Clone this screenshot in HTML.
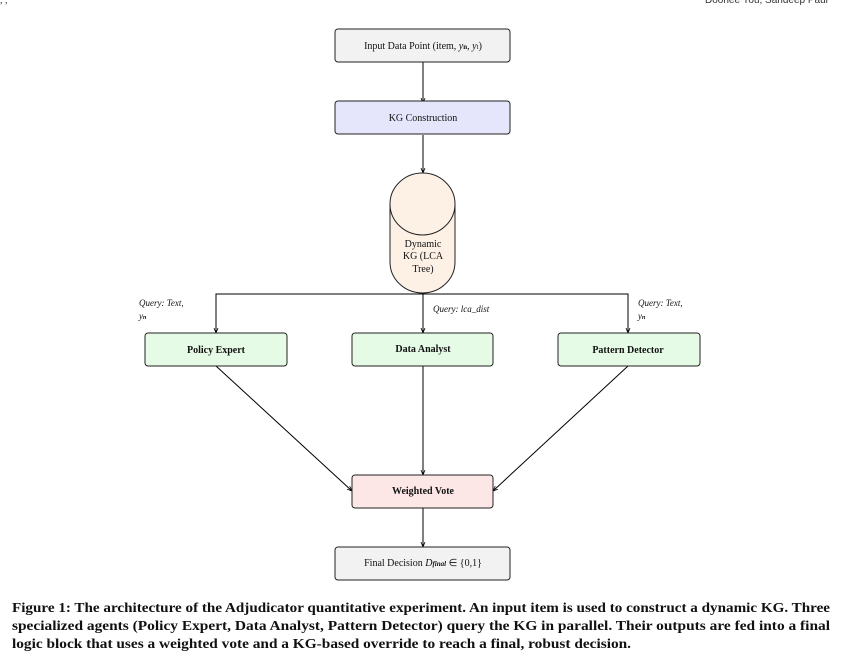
<!DOCTYPE html>
<html><head><meta charset="utf-8"><style>
html,body{margin:0;padding:0;background:#fff;}
svg{display:block;}
</style></head><body>
<svg width="852" height="666" viewBox="0 0 852 666" xmlns="http://www.w3.org/2000/svg" font-family="Liberation Serif, serif">
<defs><marker id="a" markerWidth="6" markerHeight="6" refX="5" refY="3" orient="auto"><path d="M0,1 L5,3 L0,5" fill="none" stroke="#000" stroke-width="0.8"/></marker></defs>
<text x="705" y="3" font-family="Liberation Sans, sans-serif" font-size="10" fill="#333">Doohee You, Sandeep Paul</text>
<text x="0" y="3" font-size="10" fill="#333">, ,</text>
<g stroke="#000" stroke-width="1" fill="none">
<line x1="423" y1="62" x2="423" y2="103" marker-end="url(#a)"/>
<line x1="423" y1="135" x2="423" y2="173" marker-end="url(#a)"/>
<polyline points="216,333 216,294 628,294 628,333"/>
<line x1="216" y1="320" x2="216" y2="333" marker-end="url(#a)"/>
<line x1="628" y1="320" x2="628" y2="333" marker-end="url(#a)"/>
<line x1="423" y1="294" x2="423" y2="333" marker-end="url(#a)"/>
<line x1="216" y1="366" x2="352" y2="491" marker-end="url(#a)"/>
<line x1="628" y1="366" x2="493" y2="491" marker-end="url(#a)"/>
<line x1="423" y1="366" x2="423" y2="475" marker-end="url(#a)"/>
<line x1="423" y1="508" x2="423" y2="547" marker-end="url(#a)"/>
</g>
<g stroke="#222" stroke-width="1">
<rect x="335" y="29" width="175" height="33" rx="3" fill="#f2f2f2"/>
<rect x="335" y="101" width="175" height="33" rx="3" fill="#e5e5fc"/>
<path d="M390,204 A32.5,31 0 0 1 455,204 L455,262 A32.5,31 0 0 1 390,262 Z" fill="#fdf1e6"/>
<path d="M390,204 A32.5,31 0 0 0 455,204" fill="none"/>
<rect x="145" y="333" width="142" height="33" rx="3" fill="#e6fbe6"/>
<rect x="352" y="333" width="141" height="33" rx="3" fill="#e6fbe6"/>
<rect x="558" y="333" width="142" height="33" rx="3" fill="#e6fbe6"/>
<rect x="352" y="475" width="141" height="33" rx="3" fill="#fde6e6"/>
<rect x="335" y="547" width="175" height="33" rx="3" fill="#f2f2f2"/>
</g>
<g font-size="10" fill="#111" text-anchor="middle">
<text x="423" y="49">Input Data Point (item, <tspan font-style="italic">y</tspan><tspan font-size="7" font-weight="bold">n</tspan>, <tspan font-style="italic">y</tspan><tspan font-size="7">t</tspan>)</text>
<text x="423" y="121">KG Construction</text>
<text x="423" y="247">Dynamic</text>
<text x="423" y="259">KG (LCA</text>
<text x="423" y="272">Tree)</text>
<g font-weight="bold"><text x="216" y="353">Policy Expert</text>
<text x="423" y="352">Data Analyst</text>
<text x="628" y="353">Pattern Detector</text>
<text x="423" y="494">Weighted Vote</text></g>
<text x="423" y="566">Final Decision <tspan font-style="italic">D</tspan><tspan font-size="7" font-style="italic" font-weight="bold">final</tspan> ∈ {0,1}</text>
</g>
<g font-size="9" font-style="italic" fill="#111">
<text x="139" y="306">Query:  Text,</text>
<text x="139" y="319">y<tspan font-size="6" font-weight="bold">n</tspan></text>
<text x="433" y="312">Query:  lca_dist</text>
<text x="638" y="306">Query:  Text,</text>
<text x="638" y="319">y<tspan font-size="6" font-weight="bold">n</tspan></text>
</g>
<g font-size="14" font-weight="bold" fill="#111">
<text x="12" y="612" textLength="818" lengthAdjust="spacingAndGlyphs">Figure 1: The architecture of the Adjudicator quantitative experiment. An input item is used to construct a dynamic KG. Three</text>
<text x="12" y="630" textLength="818" lengthAdjust="spacingAndGlyphs">specialized agents (Policy Expert, Data Analyst, Pattern Detector) query the KG in parallel. Their outputs are fed into a final</text>
<text x="12" y="648" textLength="619" lengthAdjust="spacingAndGlyphs">logic block that uses a weighted vote and a KG-based override to reach a final, robust decision.</text>
</g>
</svg>
</body></html>
